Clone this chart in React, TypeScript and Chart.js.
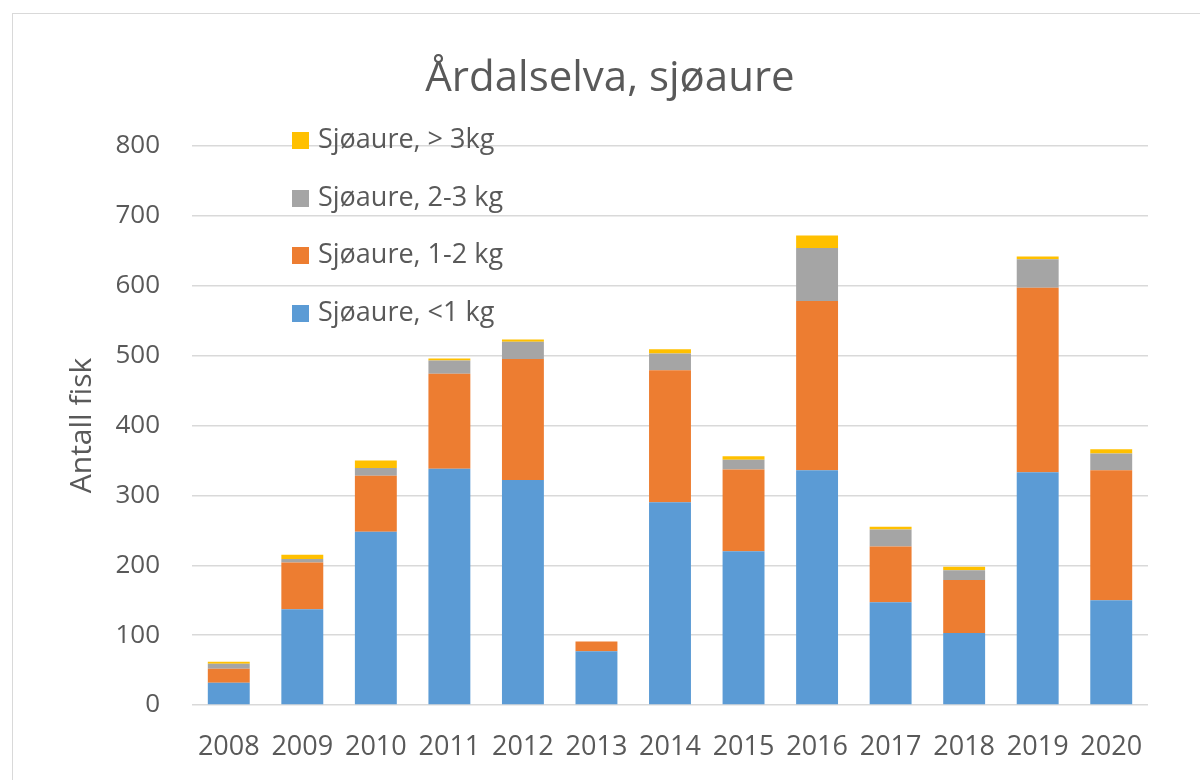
import React, { useEffect, useRef } from "react";
import { Chart, registerables } from "chart.js";

Chart.register(...registerables);

const years = ["2008", "2009", "2010", "2011", "2012", "2013", "2014", "2015", "2016", "2017", "2018", "2019", "2020"];
const under1kg = [32, 137, 248, 338, 322, 77, 290, 220, 336, 147, 103, 333, 150];
const kg1to2 = [20, 67, 80, 136, 173, 14, 189, 117, 242, 80, 76, 264, 186];
const kg2to3 = [7, 5, 11, 19, 25, 0, 24, 14, 76, 24, 14, 41, 24];
const over3kg = [3, 6, 11, 3, 3, 0, 6, 5, 18, 4, 5, 4, 6];
const yTicks = [0, 100, 200, 300, 400, 500, 600, 700, 800];

const seriesLabels = ["Sjøaure, <1 kg", "Sjøaure, 1-2 kg", "Sjøaure, 2-3 kg", "Sjøaure, > 3kg"];
const seriesColors = ["#5B9BD5", "#ED7D31", "#A5A5A5", "#FFC000"];

const TEXT = "#595959";
const FONT = "'Open Sans', 'Noto Sans', sans-serif";

const decorPlugin = {
  id: "decor",
  beforeDraw(chart: any) {
    const ctx = chart.ctx;
    ctx.save();
    ctx.fillStyle = "#ffffff";
    ctx.fillRect(0, 0, chart.width, chart.height);
    ctx.strokeStyle = "#d9d9d9";
    ctx.lineWidth = 1;
    ctx.strokeRect(12.5, 13.5, chart.width + 20, chart.height + 20);
    ctx.restore();
  },
  afterDraw(chart: any) {
    const ctx = chart.ctx;
    ctx.save();
    // title
    ctx.fillStyle = TEXT;
    ctx.font = `42px ${FONT}`;
    ctx.textAlign = "center";
    ctx.textBaseline = "alphabetic";
    ctx.fillText("Årdalselva, sjøaure", 610, 91);
    // legend (reversed order, inside plot)
    const ds = chart.data.datasets;
    const rowY = [140, 198, 255, 313];
    ctx.font = `27px ${FONT}`;
    ctx.textAlign = "left";
    ctx.textBaseline = "middle";
    for (let i = 0; i < ds.length; i++) {
      const d = ds[ds.length - 1 - i];
      const y = rowY[i];
      ctx.fillStyle = d.backgroundColor;
      ctx.fillRect(292, y - 8, 17, 17);
      ctx.fillStyle = TEXT;
      ctx.fillText(d.label, 318, y);
    }
    ctx.restore();
  },
};

export default function App() {
  const ref = useRef<HTMLCanvasElement>(null);
  useEffect(() => {
    if (!ref.current) return;
    const values = [under1kg, kg1to2, kg2to3, over3kg];
    const chart = new Chart(ref.current, {
      type: "bar",
      data: {
        labels: years,
        datasets: values.map((v, i) => ({
          label: seriesLabels[i],
          data: v,
          backgroundColor: seriesColors[i],
          borderWidth: 0,
          categoryPercentage: 1,
          barPercentage: 0.57,
        })),
      },
      options: {
        responsive: false,
        animation: false,
        layout: { padding: { left: 0, right: 52, top: 146, bottom: 0 } },
        plugins: {
          legend: { display: false },
          title: { display: false },
          tooltip: { enabled: false },
        },
        scales: {
          x: {
            stacked: true,
            afterFit(axis: any) {
              axis.height = 75;
            },
            grid: { display: false, drawTicks: false },
            border: { display: false },
            ticks: {
              color: TEXT,
              font: { family: FONT, size: 27 },
              padding: 26,
              autoSkip: false,
              maxRotation: 0,
            },
          },
          y: {
            stacked: true,
            min: 0,
            max: 800,
            afterFit(axis: any) {
              axis.width = 192;
            },
            afterBuildTicks(axis: any) {
              axis.ticks = yTicks.map((v) => ({ value: v }));
            },
            grid: { color: "#d9d9d9", lineWidth: 1.5, drawTicks: false },
            border: { display: false },
            ticks: {
              color: TEXT,
              font: { family: FONT, size: 26 },
              padding: 32,
            },
            title: {
              display: true,
              text: "Antall fisk",
              color: TEXT,
              font: { family: FONT, size: 30 },
              padding: { top: 64, bottom: 0 },
            },
          },
        },
      },
      plugins: [decorPlugin],
    });
    return () => chart.destroy();
  }, []);
  return (
    <div style={{ position: "fixed", left: 0, top: 0, width: 1200, height: 780, background: "#fff" }}>
      <canvas ref={ref} width={1200} height={780} style={{ display: "block" }} />
    </div>
  );
}
